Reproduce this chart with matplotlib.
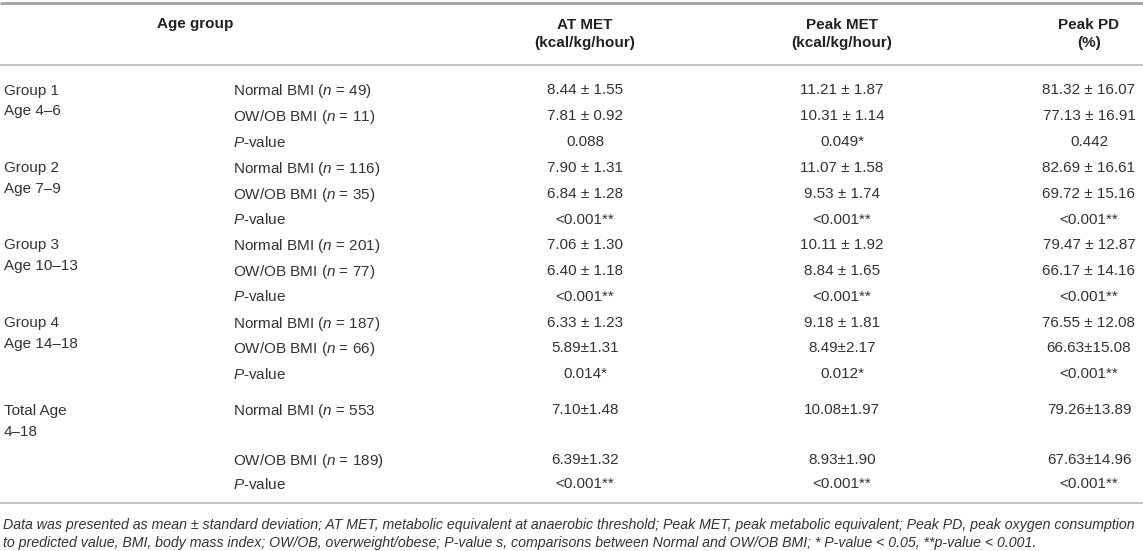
import matplotlib
matplotlib.use("Agg")
import matplotlib.pyplot as plt

# table content
headers = ["Age group", "AT MET\n(kcal/kg/hour)", "Peak MET\n(kcal/kg/hour)", "Peak PD\n(%)"]
group_labels = ["Group 1\nAge 4–6", "Group 2\nAge 7–9", "Group 3\nAge 10–13",
                "Group 4\nAge 14–18", "Total Age\n4–18"]
normal_n = ["49)", "116)", "201)", "187)", "553"]
owob_n = ["11)", "35)", "77)", "66)", "189)"]

at_met = ["8.44 ± 1.55", "7.81 ± 0.92", "0.088",
          "7.90 ± 1.31", "6.84 ± 1.28", "<0.001**",
          "7.06 ± 1.30", "6.40 ± 1.18", "<0.001**",
          "6.33 ± 1.23", "5.89±1.31", "0.014*",
          "7.10±1.48", "6.39±1.32", "<0.001**"]
peak_met = ["11.21 ± 1.87", "10.31 ± 1.14", "0.049*",
            "11.07 ± 1.58", "9.53 ± 1.74", "<0.001**",
            "10.11 ± 1.92", "8.84 ± 1.65", "<0.001**",
            "9.18 ± 1.81", "8.49±2.17", "0.012*",
            "10.08±1.97", "8.93±1.90", "<0.001**"]
peak_pd = ["81.32 ± 16.07", "77.13 ± 16.91", "0.442",
           "82.69 ± 16.61", "69.72 ± 15.16", "<0.001**",
           "79.47 ± 12.87", "66.17 ± 14.16", "<0.001**",
           "76.55 ± 12.08", "66.63±15.08", "<0.001**",
           "79.26±13.89", "67.63±14.96", "<0.001**"]

footnote = ("Data was presented as mean ± standard deviation; AT MET, metabolic equivalent at anaerobic "
            "threshold; Peak MET, peak metabolic equivalent; Peak PD, peak oxygen consumption\n"
            "to predicted value, BMI, body mass index; OW/OB, overweight/obese; P-value s, comparisons "
            "between Normal and OW/OB BMI; * P-value < 0.05, **p-value < 0.001.")

plt.rcParams['font.family'] = ['Liberation Sans', 'DejaVu Sans']
plt.rcParams['mathtext.fontset'] = 'custom'
plt.rcParams['mathtext.rm'] = 'Liberation Sans'
plt.rcParams['mathtext.it'] = 'Liberation Sans:italic'

W, H = 1143, 551
fig = plt.figure(figsize=(W / 100, H / 100), dpi=100)
ax = fig.add_axes([0, 0, 1, 1])
ax.set_xlim(0, W)
ax.set_ylim(H, 0)
ax.axis('off')

txt = '#333333'
fs = 11

# column x positions
x_group = 4
x_label = 233
col_x = [585, 842, 1089]

# rules
ax.hlines(3, 0, W, color='#a6a6a6', lw=2.2)
ax.hlines(65, 0, W, color='#bdbdbd', lw=1.3)
ax.hlines(503, 0, W, color='#bdbdbd', lw=1.3)

# header
ax.text(195, 24, headers[0], ha='center', va='center', fontsize=fs, fontweight='bold', color='#222222')
for x, h in zip(col_x, headers[1:]):
    ax.text(x, 34, h, ha='center', va='center', fontsize=fs, fontweight='bold',
            color='#222222', linespacing=1.45)

# row positions
row_y = [89 + 25.8 * i for i in range(12)] + [409, 459, 483]

for g in range(5):
    y0 = row_y[3 * g]
    for j, line in enumerate(group_labels[g].split("\n")):
        ax.text(x_group, y0 + 21 * j, line, ha='left', va='center_baseline',
                fontsize=fs, color=txt)
    labels = [r"Normal BMI ($\mathit{n}$ = " + normal_n[g],
              r"OW/OB BMI ($\mathit{n}$ = " + owob_n[g],
              r"$\mathit{P}$-value"]
    for k, lab in enumerate(labels):
        ax.text(x_label, row_y[3 * g + k], lab, ha='left', va='center_baseline',
                fontsize=fs, color=txt)

for x, col in zip(col_x, [at_met, peak_met, peak_pd]):
    for y, val in zip(row_y, col):
        ax.text(x, y, val, ha='center', va='center_baseline', fontsize=fs, color=txt)

ax.text(3, 534, footnote, ha='left', va='center', fontsize=10.2, style='italic',
        color=txt, linespacing=1.35)

fig.savefig('out.png', dpi=100)
